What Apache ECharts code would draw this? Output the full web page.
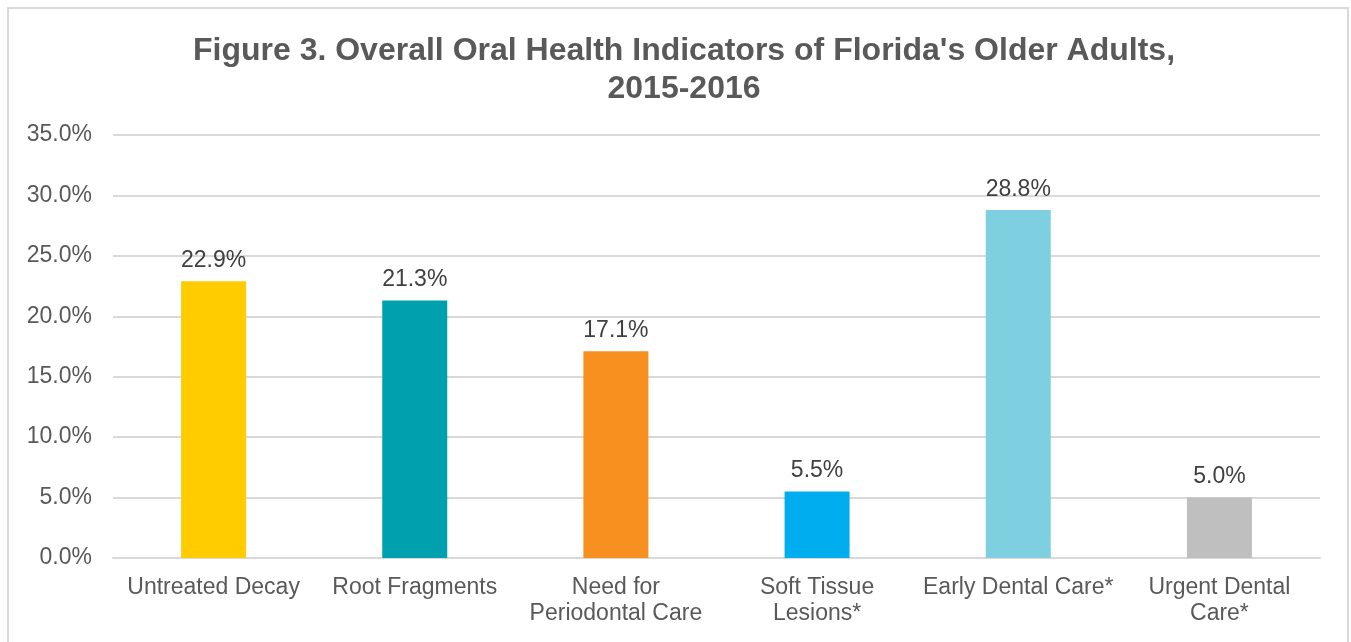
<!DOCTYPE html>
<html>
<head>
<meta charset="utf-8">
<script src="https://cdn.jsdelivr.net/npm/echarts@6/dist/echarts.min.js"></script>
<style>
  html, body { margin: 0; padding: 0; background: #fff; }
  #chart { width: 1351px; height: 642px; }
</style>
</head>
<body>
<div id="chart"></div>
<script>
  // data
  const categories = ['Untreated Decay', 'Root Fragments', 'Need for\nPeriodontal Care',
    'Soft Tissue\nLesions*', 'Early Dental Care*', 'Urgent Dental\nCare*']
  const values = [22.9, 21.3, 17.1, 5.5, 28.8, 5.0]
  const barColors = ['#FFCC00', '#00A0AF', '#F7901E', '#00AEEF', '#7ECFE0', '#BFBFBF']

  const chart = echarts.init(document.getElementById('chart'))
  const font = 'Liberation Sans, Arial, sans-serif'
  const txt = '#595959'

  chart.setOption({
    animation: false,
    textStyle: { fontFamily: font },
    graphic: [{
      type: 'rect',
      shape: { x: 8, y: 8, width: 1340, height: 700 },
      style: { fill: 'none', stroke: '#D9D9D9', lineWidth: 2 },
      silent: true
    }],
    title: {
      text: "Figure 3. Overall Oral Health Indicators of Florida's Older Adults,\n2015-2016",
      left: 679,
      top: 27,
      textAlign: 'center',
      textStyle: { fontFamily: font, fontSize: 32, fontWeight: 'bold', color: txt, lineHeight: 38 }
    },
    grid: { left: 113, right: 31, top: 135, bottom: 84, containLabel: false },
    xAxis: {
      type: 'category',
      data: categories,
      axisLine: { lineStyle: { color: '#D9D9D9', width: 2 } },
      axisTick: { show: false },
      axisLabel: { color: txt, fontSize: 23, lineHeight: 26, margin: 17, interval: 0 }
    },
    yAxis: {
      type: 'value',
      min: 0,
      max: 35,
      interval: 5,
      axisLine: { show: false },
      axisTick: { show: false },
      splitLine: { lineStyle: { color: '#D9D9D9', width: 2 } },
      axisLabel: {
        color: txt, fontSize: 23, margin: 21,
        formatter: function (v) { return v.toFixed(1) + '%' }
      }
    },
    series: [{
      type: 'bar',
      barWidth: 65,
      data: values.map(function (v, i) {
        return { value: v, itemStyle: { color: barColors[i] } }
      }),
      label: {
        show: true,
        position: 'top',
        distance: 9,
        color: '#404040',
        fontSize: 23,
        formatter: function (p) { return p.value.toFixed(1) + '%' }
      }
    }]
  })
</script>
</body>
</html>
